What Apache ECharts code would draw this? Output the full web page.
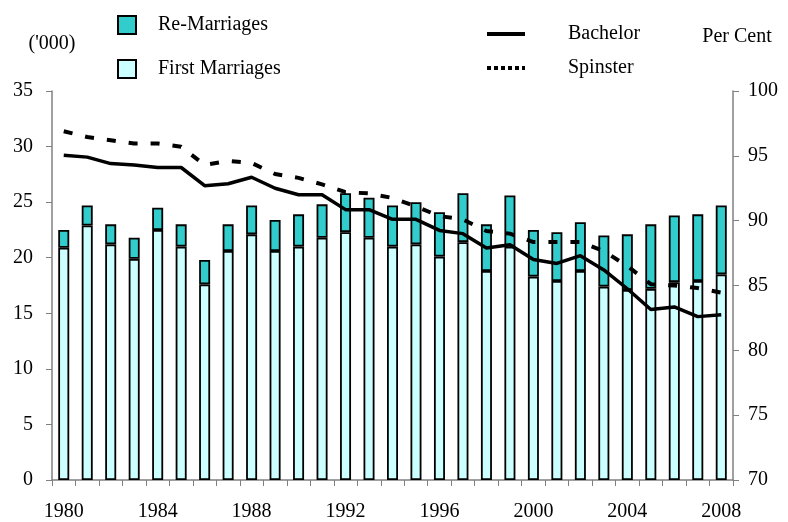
<!DOCTYPE html>
<html>
<head>
<meta charset="utf-8">
<script src="https://cdn.jsdelivr.net/npm/echarts@6/dist/echarts.min.js"></script>
<style>
  html, body { margin: 0; padding: 0; background: #fff; }
  #chart { width: 788px; height: 522px; }
</style>
</head>
<body>
<div id="chart"></div>
<script>
var years = [];
for (var y = 1980; y <= 2008; y++) years.push(String(y));

var firstMarriages = [20.9, 22.9, 21.2, 19.9, 22.5, 21.0, 17.6, 20.6, 22.1, 20.6,
  21.0, 21.8, 22.3, 21.8, 21.0, 21.2, 20.1, 21.4, 18.8, 21.0,
  18.3, 17.9, 18.8, 17.4, 17.1, 17.2, 17.8, 17.9, 18.5];
var reMarriages = [1.6, 1.8, 1.8, 1.9, 2.0, 2.0, 2.2, 2.4, 2.6, 2.8,
  2.9, 3.0, 3.5, 3.6, 3.7, 3.8, 4.0, 4.4, 4.2, 4.6,
  4.2, 4.4, 4.4, 4.6, 5.0, 5.8, 6.0, 6.0, 6.2];
var bachelor = [95.05, 94.9, 94.4, 94.3, 94.1, 94.1, 92.7, 92.85, 93.35, 92.5,
  92.0, 92.0, 90.85, 90.85, 90.1, 90.1, 89.25, 89.0, 87.9, 88.15,
  87.0, 86.7, 87.3, 86.2, 84.75, 83.15, 83.35, 82.6, 82.75];
var spinster = [96.9, 96.45, 96.2, 95.95, 95.95, 95.7, 94.3, 94.6, 94.45, 93.6,
  93.3, 92.8, 92.2, 92.1, 91.75, 91.1, 90.35, 90.1, 89.2, 89.0,
  88.35, 88.35, 88.35, 87.65, 86.5, 85.1, 85.0, 84.8, 84.45];

var font = "Liberation Serif";
var chart = echarts.init(document.getElementById("chart"));

// legend icons for the two line series
var solidIcon = "path://M0 0h38v4h-38z";
var dotIcon = "path://M0 0h4v4h-4zM7 0h4v4h-4zM14 0h4v4h-4zM21 0h4v4h-4zM28 0h4v4h-4zM35 0h3v4h-3z";

var option = {
  animation: false,
  textStyle: { fontFamily: font },
  grid: { left: 52, right: 55, top: 91, bottom: 42 },
  legend: [
    {
      orient: "vertical",
      left: 117,
      top: 15,
      padding: 0,
      itemWidth: 18,
      itemHeight: 18,
      itemGap: 24,
      textStyle: { fontFamily: font, fontSize: 20, color: "#000", padding: [0, 0, 0, 17] },
      data: [
        { name: "Re-Marriages", icon: "rect" },
        { name: "First Marriages", icon: "rect" }
      ]
    },
    {
      orient: "vertical",
      left: 487,
      top: 24,
      padding: 0,
      itemWidth: 38,
      itemHeight: 4,
      itemGap: 14,
      textStyle: { fontFamily: font, fontSize: 20, color: "#000", padding: [0, 0, 0, 38], lineHeight: 20 },
      data: [
        { name: "Bachelor", icon: solidIcon, itemStyle: { color: "#000" } },
        { name: "Spinster", icon: dotIcon, itemStyle: { color: "#000" } }
      ]
    }
  ],
  xAxis: {
    type: "category",
    data: years,
    axisLine: { lineStyle: { color: "#808080", width: 1.5 } },
    axisTick: { show: true, length: 6, lineStyle: { color: "#808080" }, interval: 0 },
    axisLabel: {
      interval: 3,
      color: "#000",
      fontSize: 20,
      fontFamily: font,
      margin: 22
    }
  },
  yAxis: [
    {
      type: "value",
      min: 0,
      max: 35,
      interval: 5,
      name: "('000)",
      nameLocation: "end",
      nameGap: 37,
      nameTextStyle: { color: "#000", fontSize: 20, fontFamily: font, align: "center" },
      axisLine: { show: true, lineStyle: { color: "#808080", width: 1.5 } },
      axisTick: { show: true, length: 6, lineStyle: { color: "#808080" } },
      axisLabel: { color: "#000", fontSize: 20, fontFamily: font, margin: 19 },
      splitLine: { show: false }
    },
    {
      type: "value",
      min: 70,
      max: 100,
      interval: 5,
      position: "right",
      name: "Per Cent",
      nameLocation: "end",
      nameGap: 44,
      nameTextStyle: { color: "#000", fontSize: 20, fontFamily: font, align: "center", padding: [0, 0, 0, 8] },
      axisLine: { show: true, lineStyle: { color: "#808080", width: 1.5 } },
      axisTick: { show: true, length: 6, lineStyle: { color: "#808080" } },
      axisLabel: { color: "#000", fontSize: 20, fontFamily: font, margin: 15 },
      splitLine: { show: false }
    }
  ],
  series: [
    {
      name: "First Marriages",
      type: "bar",
      stack: "m",
      barWidth: 11,
      data: firstMarriages,
      itemStyle: { color: "#CCFFFF", borderColor: "#000", borderWidth: 1.8 }
    },
    {
      name: "Re-Marriages",
      type: "bar",
      stack: "m",
      barWidth: 11,
      data: reMarriages,
      itemStyle: { color: "#33CCCC", borderColor: "#000", borderWidth: 1.8 }
    },
    {
      name: "Bachelor",
      type: "line",
      yAxisIndex: 1,
      data: bachelor,
      symbol: "none",
      lineStyle: { color: "#000", width: 3.5 },
      itemStyle: { color: "#000" }
    },
    {
      name: "Spinster",
      type: "line",
      yAxisIndex: 1,
      data: spinster,
      symbol: "none",
      lineStyle: { color: "#000", width: 4, type: [9, 13] },
      itemStyle: { color: "#000" }
    }
  ]
};

chart.setOption(option);
</script>
</body>
</html>
